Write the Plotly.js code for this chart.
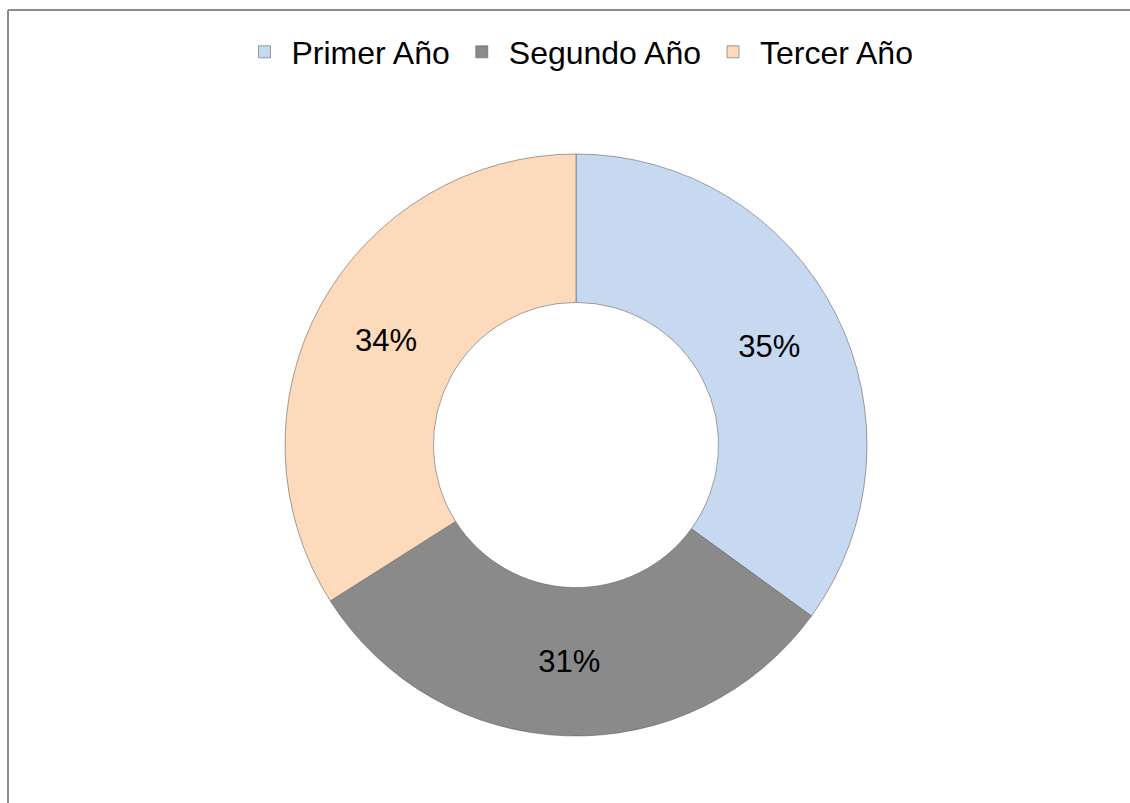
<!DOCTYPE html>
<html>
<head>
<meta charset="utf-8">
<script src="https://cdn.plot.ly/plotly-3.0.1.min.js"></script>
<style>
  html, body { margin: 0; padding: 0; background: #ffffff; }
  #chart { width: 1130px; height: 803px; }
</style>
</head>
<body>
<div id="chart"></div>
<script>
const categories = ["Primer Año", "Segundo Año", "Tercer Año"];
const values = [35, 31, 34];
const colors = ["#c6d9f1", "#8a8a8a", "#fcdabb"];

const W = 1130, H = 803;
const cx = 576, cy = 445, R = 291;

const trace = {
  type: "pie",
  labels: categories,
  values: values,
  hole: 0.49,
  sort: false,
  direction: "clockwise",
  rotation: 0,
  textinfo: "percent",
  texttemplate: "%{percent:.0%}",
  textposition: "inside",
  insidetextorientation: "horizontal",
  textfont: { family: "Liberation Sans, Arial, sans-serif", size: 31, color: "#000000" },
  marker: { colors: colors, line: { color: "rgba(90,90,90,0.55)", width: 1 } },
  domain: {
    x: [(cx - R) / W, (cx + R) / W],
    y: [1 - (cy + R) / H, 1 - (cy - R) / H]
  },
  hoverinfo: "label+percent"
};

const layout = {
  width: W,
  height: H,
  margin: { l: 0, r: 0, t: 0, b: 0 },
  paper_bgcolor: "#ffffff",
  showlegend: true,
  legend: {
    orientation: "h",
    x: 0.5 + 13 / W,
    xanchor: "center",
    y: 1 - 52 / H,
    yanchor: "middle",
    font: { family: "Liberation Sans, Arial, sans-serif", size: 32, color: "#000000" },
    itemwidth: 44,
    traceorder: "normal"
  },
  shapes: [
    { type: "line", xref: "paper", yref: "paper", x0: 8 / W, x1: 8 / W, y0: -0.05, y1: 1 - 10 / H,
      line: { color: "#8c8c8c", width: 2 } },
    { type: "line", xref: "paper", yref: "paper", x0: 8 / W, x1: 1.05, y0: 1 - 10 / H, y1: 1 - 10 / H,
      line: { color: "#8c8c8c", width: 2 } }
  ]
};

Plotly.newPlot("chart", [trace], layout, { displayModeBar: false, staticPlot: true });
</script>
</body>
</html>
